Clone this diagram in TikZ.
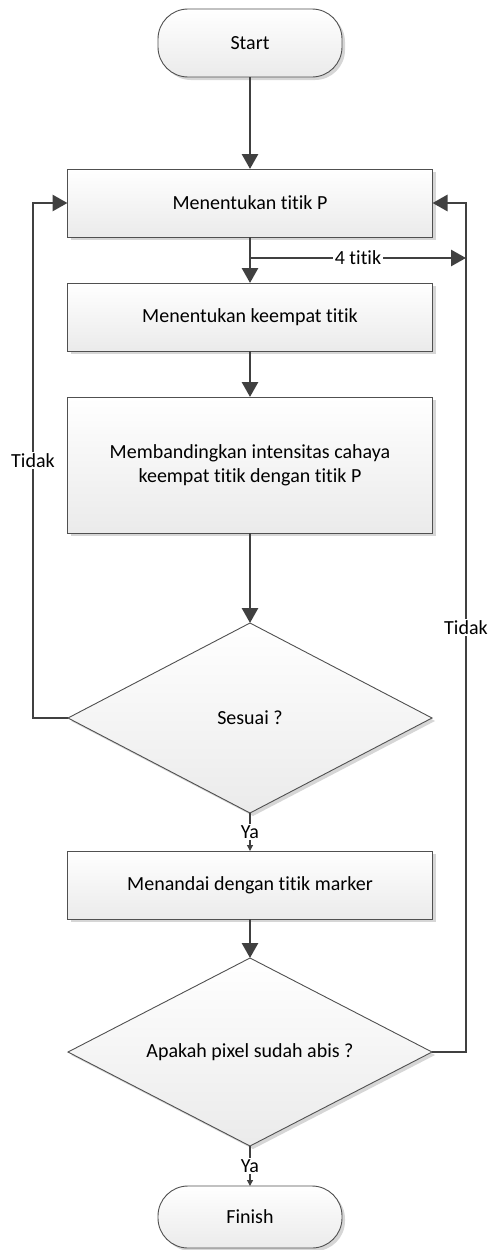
\documentclass[tikz,border=0pt]{standalone}
\usepackage{fontspec}
\setmainfont{Carlito}[Ligatures={NoCommon,NoDiscretionary}]
\usetikzlibrary{arrows.meta,positioning,shapes.geometric,shadows}
\definecolor{ink}{HTML}{404040}
\definecolor{edge}{HTML}{505050}

\begin{document}
\begin{tikzpicture}[x=1pt,y=-1pt,node distance=46pt,>={Triangle[length=15pt,width=16pt]},
font=\fontsize{20}{24}\selectfont,
base/.style={draw=edge,line width=0.9pt,top color=white,bottom color=black!8,
drop shadow={shadow xshift=3pt,shadow yshift=-3pt,fill=black!16,opacity=1},
align=center,inner sep=0pt,outer sep=0pt},
box/.style={base,minimum width=365pt,minimum height=68pt},
term/.style={base,rounded corners=30pt,minimum width=184pt,minimum height=68pt},
dec/.style={base,diamond,aspect=1.92,minimum width=364pt,minimum height=190pt},
flow/.style={->,ink,line width=2.8pt},
yaline/.style={-{Triangle[length=6pt,width=6pt]},ink,line width=1.2pt},
lbl/.style={fill=white,inner sep=1.5pt,text=black}]
\useasboundingbox (0,0) rectangle (489,1250);
\node[term](s) at (250,43){Start};
\node[box,below=92pt of s](a){Menentukan titik P};
\node[box,below=of a](b){Menentukan keempat titik};
\node[box,below=of b,minimum height=136pt](c){Membandingkan intensitas cahaya\\keempat titik dengan titik P};
\node[dec,below=90pt of c](d){Sesuai ?};
\node[box,below=38pt of d](e){Menandai dengan titik marker};
\node[dec,below=39pt of e,minimum height=188pt](f){Apakah pixel sudah abis ?};
\node[term,below=40pt of f,minimum height=62pt](g){Finish};
\coordinate(l) at (33,0);
\coordinate(r) at (466,0);
\coordinate[below=21pt of a.south](k);
\draw[flow](s.south)--(a.north);
\draw[flow](a.south)--(b.north);
\draw[flow](k)--node[lbl]{4 titik}(k-|r);
\draw[flow](b.south)--(c.north);
\draw[flow](c.south)--(d.north);
\draw[yaline](d.south)--node[lbl]{Ya}(e.north);
\draw[flow](e.south)--(f.north);
\draw[yaline](f.south)--node[lbl]{Ya}(g.north);
\draw[flow](d.west)-|node[lbl,pos=0.75]{Tidak}(l|-a.west)--(a.west);
\draw[flow](f.east)-|node[lbl,pos=0.75]{Tidak}(r|-a.east)--(a.east);
\end{tikzpicture}
\end{document}
